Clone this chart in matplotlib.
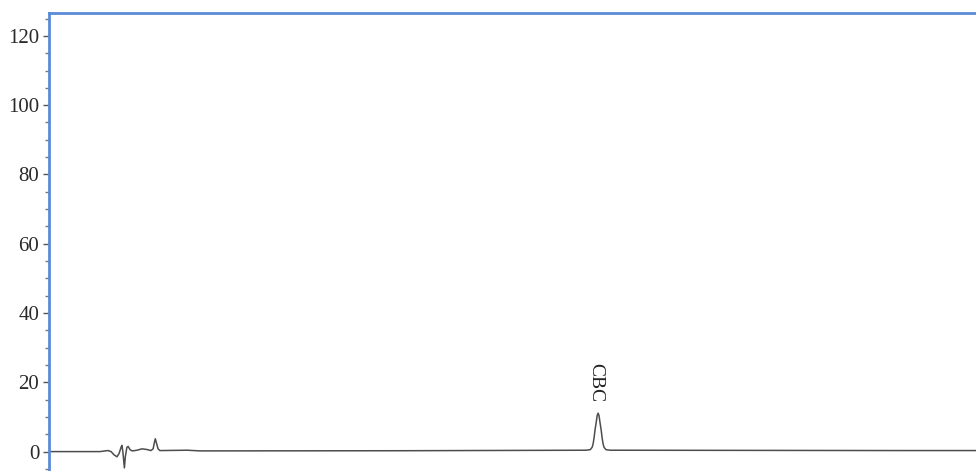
import matplotlib
matplotlib.use("Agg")
import matplotlib.pyplot as plt
from matplotlib.ticker import MultipleLocator

# chromatogram trace, time in min vs detector response
time_min = [0.0, 1.65, 1.81, 1.91, 2.01, 2.10, 2.20, 2.27, 2.33, 2.36, 2.39,
            2.44, 2.47, 2.52, 2.56, 2.62, 2.69, 2.85, 3.01, 3.17, 3.30, 3.37,
            3.41, 3.44, 3.48, 3.53, 3.59, 4.47, 4.89, 11.36, 17.38,
            17.51, 17.54, 17.58, 17.61, 17.64, 17.67, 17.71, 17.74, 17.77,
            17.80, 17.83, 17.87, 17.90, 17.93, 17.96, 18.00, 18.03, 18.16,
            27.54, 30.0]
signal = [0.0, 0.0, 0.2, 0.3, 0.0, -0.9, -1.5, -0.5, 1.2, 1.8, 0.0,
          -4.7, -1.5, 1.2, 1.5, 0.6, 0.2, 0.4, 0.8, 0.6, 0.3, 0.8,
          2.6, 3.7, 2.4, 0.8, 0.3, 0.4, 0.2, 0.25, 0.4,
          0.55, 0.8, 1.3, 2.3, 4.0, 6.2, 8.5, 10.4, 11.1,
          10.4, 8.5, 6.2, 4.0, 2.3, 1.3, 0.8, 0.55, 0.4,
          0.3, 0.3]

peak_name = "CBC"
label_x = 17.70
label_y = 20.0

fig = plt.figure(figsize=(9.76, 4.71), dpi=100)
ax = fig.add_axes([49 / 976, 0.0, 1 - 49 / 976, 1 - 13 / 471])

ax.plot(time_min, signal, color="#4d4d4d", lw=1.1, solid_joinstyle="round")
ax.text(label_x, label_y, peak_name, rotation=-90, ha="center", va="center",
        fontsize=14, family="Liberation Serif", color="#222222")

ax.set_xlim(0, 30)
ax.set_ylim(-5.6, 126.6)
ax.yaxis.set_major_locator(MultipleLocator(20))
ax.yaxis.set_minor_locator(MultipleLocator(5))
ax.set_xticks([])

for side in ("right", "bottom"):
    ax.spines[side].set_visible(False)
for side in ("left", "top"):
    ax.spines[side].set_color("#5b8bd6")
    ax.spines[side].set_linewidth(2)

ax.tick_params(axis="y", which="major", length=4, width=1, color="#555555",
               pad=3, labelsize=15, labelcolor="#2a2a2a")
ax.tick_params(axis="y", which="minor", length=3, width=1, color="#777777")
for lbl in ax.get_yticklabels():
    lbl.set_family("Liberation Serif")

fig.savefig("out.png", dpi=100)
